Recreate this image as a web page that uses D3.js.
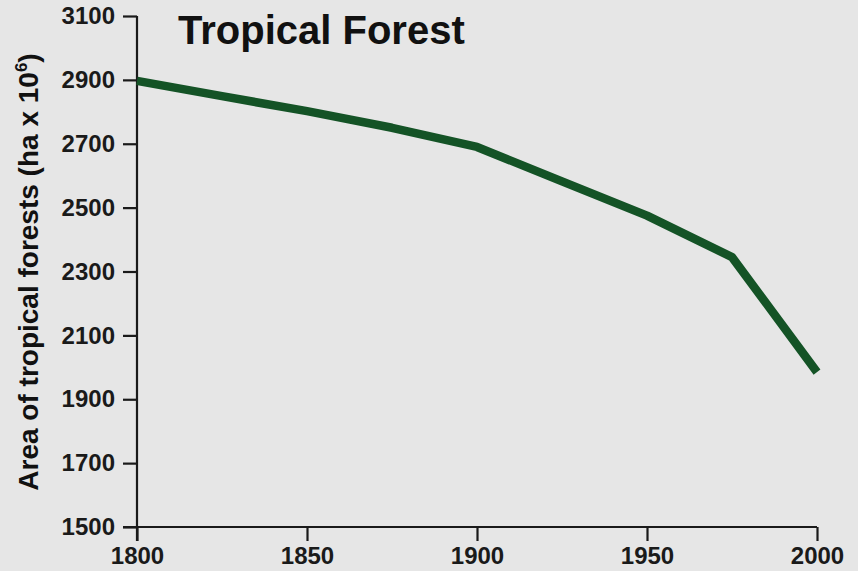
<!DOCTYPE html>
<html lang="en">
  <head>
    <meta charset="utf-8"/>
    <title>Tropical Forest</title>
    <script src="https://cdnjs.cloudflare.com/ajax/libs/d3/7.8.5/d3.min.js"></script>
    <style>
      body { margin: 0; background: #e6e6e6; }
      svg { display: block; font-family: "Liberation Sans", Arial, sans-serif; font-weight: bold; }
      .axis path, .axis line { stroke: #1a1a1a; stroke-width: 2.2; }
      .axis text { fill: #1a1a1a; font-size: 24px; font-weight: bold; font-family: "Liberation Sans", Arial, sans-serif; }
    </style>
  </head>
  <body>
    <div id="chart"></div>
    <script>
      // data
      var years = [1800, 1825, 1850, 1875, 1900, 1925, 1950, 1975, 2000];
      var forestArea = [2897, 2849, 2802, 2750, 2690, 2582, 2475, 2345, 1985];
      var yTicks = [1500, 1700, 1900, 2100, 2300, 2500, 2700, 2900, 3100];
      var xTicks = [1800, 1850, 1900, 1950, 2000];

      var w = 858, h = 571;
      var mLeft = 137, mRight = 817, mTop = 16, mBottom = 527;

      var svg = d3.select("#chart")
        .append("svg")
        .attr("width", w)
        .attr("height", h);

      svg.append("rect")
        .attr("width", w)
        .attr("height", h)
        .attr("fill", "#e6e6e6");

      var x = d3.scaleLinear().domain([1800, 2000]).range([mLeft, mRight]);
      var y = d3.scaleLinear().domain([1500, 3100]).range([mBottom, mTop]);

      // y axis
      svg.append("g")
        .attr("class", "axis")
        .attr("transform", "translate(" + mLeft + ",0)")
        .call(d3.axisLeft(y).tickValues(yTicks).tickFormat(d3.format("d")).tickSize(14).tickPadding(8).tickSizeOuter(0))
        .call(function(g){ g.select(".domain").attr("d", "M0," + mTop + "V" + (mBottom + 14)); });

      // x axis
      svg.append("g")
        .attr("class", "axis")
        .attr("transform", "translate(0," + mBottom + ")")
        .call(d3.axisBottom(x).tickValues(xTicks).tickFormat(d3.format("d")).tickSize(14).tickPadding(6).tickSizeOuter(0))
        .call(function(g){ g.select(".domain").attr("d", "M" + (mLeft - 14) + ",0H" + mRight); });

      // the line
      var line = d3.line()
        .x(function(d, i){ return x(years[i]); })
        .y(function(d){ return y(d); })
        .curve(d3.curveLinear);

      svg.append("path")
        .datum(forestArea)
        .attr("d", line)
        .attr("fill", "none")
        .attr("stroke", "#145326")
        .attr("stroke-width", 8.5)
        .attr("stroke-linejoin", "round");

      // title
      svg.append("text")
        .attr("x", 178)
        .attr("y", 44)
        .attr("font-size", 40)
        .attr("fill", "#111")
        .text("Tropical Forest");

      // y label
      var yl = svg.append("text")
        .attr("transform", "translate(38,272) rotate(-90)")
        .attr("text-anchor", "middle")
        .attr("font-size", 28)
        .attr("fill", "#111");
      yl.append("tspan").text("Area of tropical forests (ha x 10");
      yl.append("tspan").attr("font-size", 17).attr("dy", -11).text("6");
      yl.append("tspan").attr("dy", 11).text(")");
    </script>
  </body>
</html>
